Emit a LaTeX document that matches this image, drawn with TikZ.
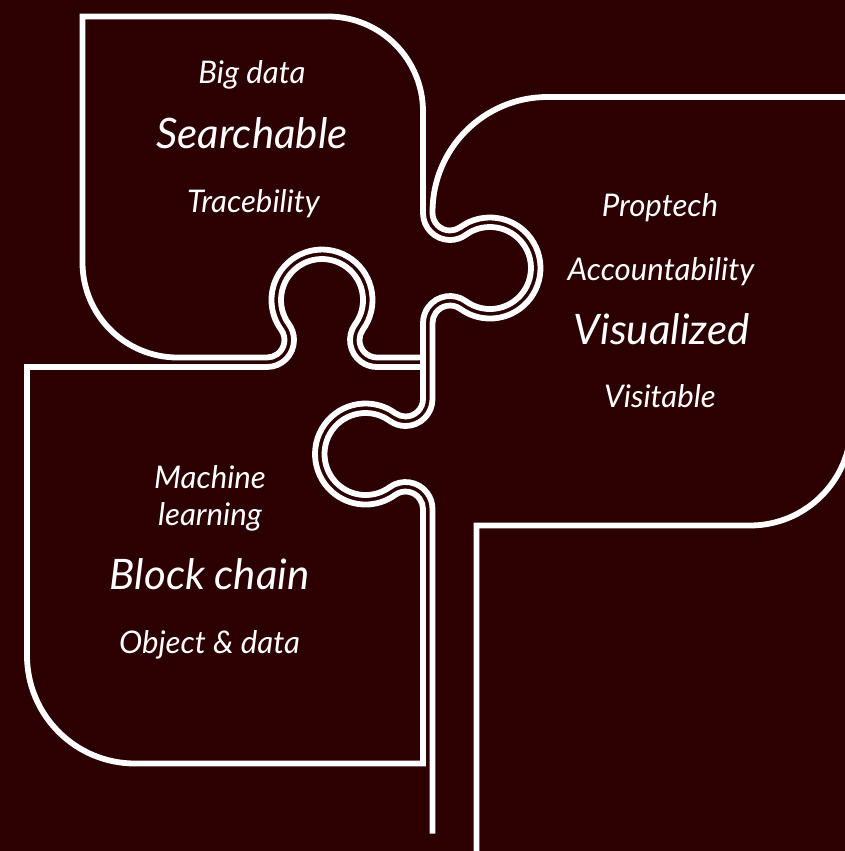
\documentclass[tikz,border=0pt]{standalone}
\usepackage{fontspec}
\setmainfont{Lato}
\definecolor{bg}{RGB}{44,0,2}
\tikzset{
  piece/.style={draw=white, line width=5.8pt, line join=miter},
  small/.style={text=white, font=\fontsize{31.2}{36}\selectfont\itshape, anchor=base, inner sep=0pt},
  big/.style={text=white, font=\fontsize{42}{48}\selectfont\itshape, anchor=base, inner sep=0pt},
}
\begin{document}
\begin{tikzpicture}[x=1pt,y=1pt,yscale=-1]
\useasboundingbox (0,0) rectangle (845,851);
\clip (0,0) rectangle (845,851);
\fill[bg] (0,0) rectangle (845,851);

% top-left piece
\draw[piece] (82.5,16.5) -- (328,16.5) arc[start angle=270,end angle=360,radius=95]
  -- (423,213) arc[start angle=180,end angle=54,radius=27]
  arc[start angle=234,end angle=486,radius=41]
  arc[start angle=-54,end angle=-180,radius=27]
  -- (423,357.5) -- (377,357.5)
  arc[start angle=90,end angle=216,radius=17.5]
  arc[start angle=396,end angle=144,radius=50.5]
  arc[start angle=-36,end angle=90,radius=17.5]
  -- (177.5,357.5) arc[start angle=90,end angle=180,radius=95] -- cycle;

% bottom-left piece
\draw[piece] (27,367) -- (267,367)
  arc[start angle=90,end angle=-36,radius=27]
  arc[start angle=144,end angle=396,radius=41]
  arc[start angle=216,end angle=90,radius=27]
  -- (423,367) -- (423,399)
  arc[start angle=0,end angle=126,radius=17.5]
  arc[start angle=-54,end angle=-306,radius=50.5]
  arc[start angle=234,end angle=360,radius=17.5]
  -- (423,763.5) -- (135,763.5) arc[start angle=90,end angle=180,radius=108] -- cycle;

% junction filler
\draw[piece] (423,357.5) -- (423,367);

% right piece
\draw[piece] (476.5,860) -- (476.5,525.5) -- (750,525.5) arc[start angle=90,end angle=0,radius=101]
  -- (851,97) -- (547.5,97) arc[start angle=270,end angle=180,radius=115]
  -- (432.5,213) arc[start angle=180,end angle=54,radius=17.5]
  arc[start angle=234,end angle=486,radius=50.5]
  arc[start angle=-54,end angle=-180,radius=17.5]
  -- (432.5,399) arc[start angle=0,end angle=126,radius=27]
  arc[start angle=-54,end angle=-306,radius=41]
  arc[start angle=234,end angle=360,radius=27]
  -- (432.5,833.5);

% texts
\node[small] (bigdata) at (252,83) {Big data};
\node[big] (searchable) at (252,148) {Searchable};
\node[small] (trace) at (253.5,212) {Tracebility};
\node[small] (proptech) at (660,216.3) {Proptech};
\node[small] (account) at (661,280.6) {Accountability};
\node[big] (visualized) at (661.7,344) {Visualized};
\node[small] (visitable) at (660,407.3) {Visitable};
\node[small] (machine) at (210,488) {Machine};
\node[small] (learning) at (210,525.3) {learning};
\node[big] (block) at (209.7,589.6) {Block chain};
\node[small] (object) at (209.5,653.6) {Object \& data};
\end{tikzpicture}
\end{document}
